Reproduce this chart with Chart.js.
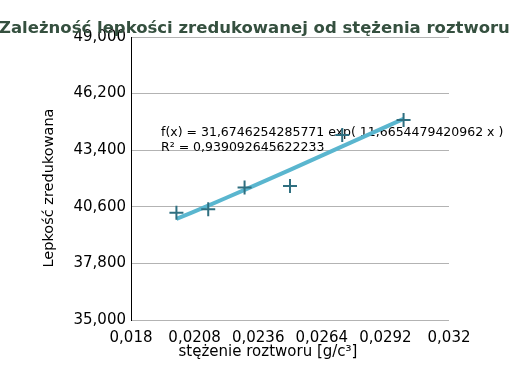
<!DOCTYPE html>
<html>
<head>
<meta charset="utf-8">
<script src="https://cdn.jsdelivr.net/npm/chart.js@4/dist/chart.umd.min.js"></script>
<style>
html,body{margin:0;padding:0;background:#fff;}
#wrap{width:513px;height:367px;position:relative;}
</style>
</head>
<body>
<div id="wrap"><canvas id="c" width="513" height="367"></canvas></div>
<script>
const titleText = "Zależność lepkości zredukowanej od stężenia roztworu";
const xAxisTitle = "stężenie roztworu [g/c³]";
const yAxisTitle = "Lepkość zredukowana";
const trendLine1 = "f(x) = 31,6746254285771 exp( 11,6654479420962 x )";
const trendLine2 = "R² = 0,939092645622233";

const concentrations = [0.0200, 0.0214, 0.0230, 0.0250, 0.0273, 0.0300];
const viscosities    = [40.31, 40.48, 41.56, 41.63, 44.15, 44.89];
const trendX         = [0.0200, 0.0214, 0.0230, 0.0250, 0.0273, 0.0300];
const trendY         = [40.00, 40.66, 41.44, 42.43, 43.59, 44.95];

const xTicks = [0.018, 0.0208, 0.0236, 0.0264, 0.0292, 0.032];
const xTickLabels = ["0,018", "0,0208", "0,0236", "0,0264", "0,0292", "0,032"];
const yTicks = [35, 37.8, 40.6, 43.4, 46.2, 49];
const yTickLabels = ["35,000", "37,800", "40,600", "43,400", "46,200", "49,000"];

const FONT = "'DejaVu Sans', sans-serif";

const textPlugin = {
  id: 'texts',
  beforeDatasetsDraw(chart) {
    const ctx = chart.ctx;
    ctx.save();
    ctx.fillStyle = '#000';
    ctx.font = "12.5px " + FONT;
    ctx.textAlign = 'left';
    ctx.textBaseline = 'alphabetic';
    ctx.fillText(trendLine1, 161, 136);
    ctx.fillText(trendLine2, 161, 151);
    ctx.restore();
  },
  afterDraw(chart) {
    const ctx = chart.ctx;
    ctx.save();
    ctx.fillStyle = '#35503f';
    ctx.font = "bold 16.5px " + FONT;
    ctx.textAlign = 'left';
    ctx.textBaseline = 'alphabetic';
    ctx.fillText(titleText, -1, 33);
    ctx.fillStyle = '#000';
    ctx.font = "15px " + FONT;
    ctx.textAlign = 'center';
    ctx.fillText(xAxisTitle, 268, 356);
    ctx.font = "14.5px " + FONT;
    ctx.translate(53, 188);
    ctx.rotate(-Math.PI / 2);
    ctx.fillText(yAxisTitle, 0, 0);
    ctx.restore();
  }
};

new Chart(document.getElementById('c'), {
  type: 'scatter',
  data: {
    datasets: [
      {
        label: 'trend',
        data: trendX.map((x, i) => ({x: x, y: trendY[i]})),
        showLine: true,
        borderColor: '#5ab6cf',
        borderWidth: 4,
        pointRadius: 0,
        tension: 0.3,
        order: 2
      },
      {
        label: 'data',
        data: concentrations.map((x, i) => ({x: x, y: viscosities[i]})),
        showLine: false,
        pointStyle: 'cross',
        pointRadius: 7,
        borderColor: '#2f6f80',
        backgroundColor: '#2f6f80',
        pointBorderWidth: 2,
        order: 1
      }
    ]
  },
  options: {
    responsive: false,
    animation: false,
    devicePixelRatio: 1,
    layout: { padding: { top: 37, right: 64, left: 0, bottom: 0 } },
    plugins: { legend: { display: false }, title: { display: false }, tooltip: { enabled: false } },
    scales: {
      x: {
        type: 'linear',
        min: 0.018, max: 0.032,
        afterBuildTicks(scale) { scale.ticks = xTicks.map(v => ({value: v})); },
        afterFit(scale) { scale.height = 47; },
        ticks: {
          callback: (v, i) => xTickLabels[i],
          font: { family: FONT, size: 15 },
          color: '#000',
          padding: 9,
          maxRotation: 0,
          autoSkip: false
        },
        grid: { display: false, drawTicks: false },
        border: { display: false }
      },
      y: {
        type: 'linear',
        min: 35, max: 49,
        afterBuildTicks(scale) { scale.ticks = yTicks.map(v => ({value: v})); },
        afterFit(scale) { scale.width = 131; },
        ticks: {
          callback: (v, i) => yTickLabels[i],
          font: { family: FONT, size: 15 },
          color: '#000',
          padding: 5,
          autoSkip: false
        },
        grid: { color: '#b3b3b3', lineWidth: 1, drawTicks: false },
        border: { display: true, color: '#000', width: 1 }
      }
    }
  },
  plugins: [textPlugin]
});
</script>
</body>
</html>
